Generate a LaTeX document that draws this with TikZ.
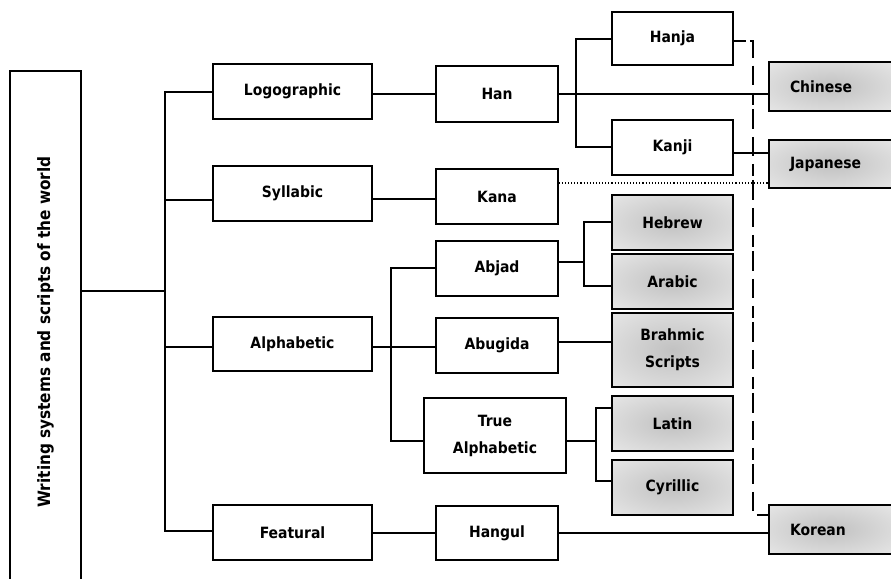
\documentclass[tikz,border=0pt]{standalone}
\usepackage{fontspec}
\newfontfamily\lblfont{DejaVu Sans Condensed}
\usetikzlibrary{calc}
\pgfdeclareradialshading{softbox}{\pgfpoint{0bp}{0bp}}{color(0bp)=(black!24); color(8bp)=(black!21); color(45bp)=(black!6); color(75bp)=(black!5)}
\begin{document}
\begin{tikzpicture}[x=1pt,y=-1pt,
  box/.style={draw=black, fill=white, line width=1.5pt, minimum width=121pt, minimum height=55pt,
    inner sep=0pt, align=center, font=\lblfont\bfseries\fontsize{15.5}{27}\selectfont},
  shadebox/.style={box, line width=1.8pt, shading=softbox},
  langbox/.style={shadebox, text width=82pt, inner xsep=21pt, align=left, minimum height=48pt},
  link/.style={line width=1.3pt, line cap=rect},
  dotlink/.style={line width=1.1pt, dotted},
  dashlink/.style={line width=1.3pt, dash pattern=on 12pt off 4pt on 20pt off 8pt on 19pt off 8pt},
]
\clip (0,0) rectangle (891,578);
\useasboundingbox (0,0) rectangle (891,578);

% connectors
\coordinate (bt) at (165,92);
\coordinate (bb) at (165,531);
\coordinate (ab) at (391,268);
\coordinate (abb) at (391,441);
\coordinate (hb) at (576,39);
\coordinate (hbb) at (576,147);
\coordinate (jb) at (584,222);
\coordinate (jbb) at (584,286);
\coordinate (tb) at (596,408);
\coordinate (tbb) at (596,481);
\coordinate (dtop) at (753,41);
\coordinate (dbot) at (753,515);

% nodes
\node[box, minimum width=71pt, minimum height=530pt, font=\lblfont\bfseries\fontsize{17}{20}\selectfont] (root) at (45.5,336) {};
\node[font=\lblfont\bfseries\fontsize{17}{20}\selectfont, rotate=90, inner sep=0pt] (roottext) at (45.5,332) {Writing systems and scripts of the world};
\node[box, minimum width=159pt] (logo) at (292.5,91.5) {Logographic};
\node[box, minimum width=159pt] (syll) at (292.5,193.5) {Syllabic};
\node[box, minimum width=159pt, minimum height=54pt] (alpha) at (292.5,344) {Alphabetic};
\node[box, minimum width=159pt] (feat) at (292.5,532.5) {Featural};

\node[box, minimum width=122pt, minimum height=56pt] (han) at (497,94) {Han};
\node[box, minimum width=122pt] (kana) at (497,196.5) {Kana};
\node[box, minimum width=122pt] (abjad) at (497,268.5) {Abjad};
\node[box, minimum width=122pt] (abugida) at (497,345.5) {Abugida};
\node[box, minimum width=142pt, minimum height=75pt] (trueal) at (495,435.5) {True\\Alphabetic};
\node[box, minimum width=122pt, minimum height=54pt] (hangul) at (497,533) {Hangul};

\node[box, minimum height=53pt] (hanja) at (672.5,38.5) {Hanja};
\node[box] (kanji) at (672.5,147.5) {Kanji};
\node[shadebox] (hebrew) at (672.5,222.5) {Hebrew};
\node[shadebox] (arabic) at (672.5,281.5) {Arabic};
\node[shadebox, minimum height=74pt] (brahmic) at (672.5,350) {Brahmic\\Scripts};
\node[shadebox] (latin) at (672.5,423.5) {Latin};
\node[shadebox] (cyrillic) at (672.5,487.5) {Cyrillic};

\node[langbox, minimum height=49pt] (chinese) at (831,86.5) {Chinese};
\node[langbox] (japanese) at (831,164) {Japanese};
\node[langbox, minimum height=49pt] (korean) at (831,529.5) {Korean};

% root and first level
\draw[link] (root.east |- 0,291) -- (165,291);
\draw[link] (logo.west |- bt) -- (bt) -- (bb) -- (feat.west |- bb);
\draw[link] (165,200) -- (syll.west |- 0,200);
\draw[link] (165,347) -- (alpha.west |- 0,347);

% second level
\draw[link] (logo.east |- 0,94) -- (han.west |- 0,94);
\draw[link] (syll.east |- 0,199) -- (kana.west |- 0,199);
\draw[link] (alpha.east |- 0,347) -- (391,347);
\draw[link] (abjad.west |- ab) -- (ab) -- (abb) -- (trueal.west |- abb);
\draw[link] (391,347) -- (abugida.west |- 0,347);
\draw[link] (feat.east |- 0,533) -- (hangul.west |- 0,533);

% Han branch
\draw[link] (han.east |- 0,94) -- (chinese.west |- 0,94);
\draw[link] (hanja.west |- hb) -- (hb) -- (hbb) -- (kanji.west |- hbb);
\draw[link] (kanji.east |- 0,153) -- (japanese.west |- 0,153);
\draw[dotlink] (kana.east |- 0,183) -- (japanese.west |- 0,183);
\draw[dashlink] (hanja.east |- dtop) -- (dtop) -- (dbot) -- (korean.west |- dbot);

% alphabets
\draw[link] (abjad.east |- 0,262) -- (584,262);
\draw[link] (hebrew.west |- jb) -- (jb) -- (jbb) -- (arabic.west |- jbb);
\draw[link] (abugida.east |- 0,342) -- (brahmic.west |- 0,342);
\draw[link] (trueal.east |- 0,441) -- (596,441);
\draw[link] (latin.west |- tb) -- (tb) -- (tbb) -- (cyrillic.west |- tbb);
\draw[link] (hangul.east |- 0,533) -- (korean.west |- 0,533);
\end{tikzpicture}
\end{document}
